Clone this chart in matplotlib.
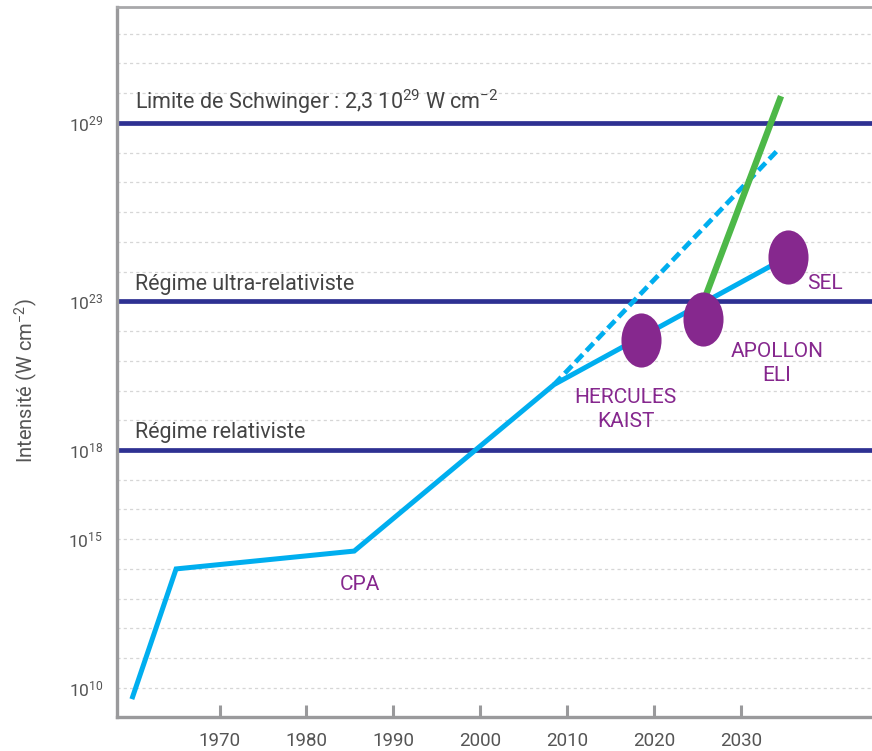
import numpy as np
import matplotlib
matplotlib.use("Agg")
import matplotlib.pyplot as plt
from matplotlib.path import Path

plt.rcParams["font.family"] = ["Roboto", "DejaVu Sans"]
plt.rcParams["mathtext.fontset"] = "custom"
plt.rcParams["mathtext.rm"] = "Roboto"
plt.rcParams["mathtext.it"] = "Roboto:italic"
plt.rcParams["mathtext.bf"] = "Roboto:bold"

# peak laser intensity over time (log10 of W/cm^2)
years_main = [1960, 1965, 1985.5, 2008.5, 2035.4]
log_main = [9.7, 14.0, 14.6, 20.2, 24.5]

years_trend = [2008.5, 2034.3]
log_trend = [20.2, 28.1]

years_green = [2026.1, 2034.5]
log_green = [23.3, 29.8]

facilities = ["HERCULES\nKAIST", "APOLLON\nELI", "SEL"]
fac_years = [2018.5, 2025.7, 2035.4]
fac_log = [21.7, 22.4, 24.5]

regimes = ["Régime relativiste", "Régime ultra-relativiste",
           "Limite de Schwinger : 2,3 10$^{29}$ W cm$^{-2}$"]
regime_log = [18, 23, 29]

ytick_exp = [10, 15, 18, 23, 29]
xtick_years = [1970, 1980, 1990, 2000, 2010, 2020, 2030]

BLUE = "#00AEEF"
NAVY = "#2E3192"
GREEN = "#4DB848"
PURPLE = "#86288E"
AXGREY = "#9a9a9c"
TXT = "#555555"

fig = plt.figure(figsize=(8.72, 7.51), dpi=100)
ax = fig.add_axes([0.1342, 0.0453, 0.8658, 0.9454])
ax.set_yscale("log")
ax.set_xlim(1958.2, 2045.1)
ax.set_ylim(10 ** 9.02, 10 ** 32.9)

# dotted decade grid
for e in range(10, 33):
    ax.axhline(10.0 ** e, color="#d6d6d6", lw=0.9, ls=(0, (2.5, 2.5)), zorder=0)

# regime boundaries
for lab, e in zip(regimes, regime_log):
    ax.axhline(10.0 ** e, color=NAVY, lw=3.4, zorder=2)
    ax.text(1960.3, 10.0 ** (e + 0.22), lab, fontsize=15.5, color="#444444",
            ha="left", va="bottom", zorder=3)

ax.plot(years_main, 10.0 ** np.array(log_main), color=BLUE, lw=3.6,
        solid_joinstyle="miter", zorder=4)
ax.plot(years_trend, 10.0 ** np.array(log_trend), color=BLUE, lw=3.4,
        ls=(0, (2.2, 1.1)), zorder=4)
ax.plot(years_green, 10.0 ** np.array(log_green), color=GREEN, lw=4.6, zorder=4)

# elliptical facility markers
circ = Path.unit_circle()
ell = Path(circ.vertices * np.array([0.74, 1.0]), circ.codes)
ax.scatter(fac_years, 10.0 ** np.array(fac_log), s=1520, marker=ell,
           color=PURPLE, linewidths=0, zorder=5)

offsets = [(-11, -50), (53, -32), (27, -19)]
for name, yr, lg, off in zip(facilities, fac_years, fac_log, offsets):
    ax.annotate(name, (yr, 10.0 ** lg), xytext=off, textcoords="offset points",
                ha="center", va="center", fontsize=15, color=PURPLE,
                linespacing=1.3, zorder=6)

ax.annotate("CPA", (years_main[2], 10.0 ** log_main[2]), xytext=(4, -24),
            textcoords="offset points", ha="center", va="center",
            fontsize=15, color=PURPLE)

ax.spines["right"].set_visible(False)
for side in ["left", "bottom"]:
    ax.spines[side].set_color(AXGREY)
    ax.spines[side].set_linewidth(2.4)
ax.spines["top"].set_color("#a8a8aa")
ax.spines["top"].set_linewidth(2.0)

ax.set_xticks(xtick_years)
ax.set_xticklabels([str(y) for y in xtick_years])
ax.tick_params(axis="x", direction="in", length=9, width=2.2, color=AXGREY,
               labelsize=13.5, labelcolor=TXT, pad=11)
ax.set_yticks([10.0 ** e for e in ytick_exp])
ax.set_yticklabels([f"10$^{{{e}}}$" for e in ytick_exp])
ax.yaxis.set_minor_locator(matplotlib.ticker.NullLocator())
ax.tick_params(axis="y", length=0, labelsize=12.5, labelcolor=TXT, pad=10)

fig.text(0.03, 0.493, "Intensité (W cm$^{-2}$)", rotation=90, fontsize=14.5,
         color=TXT, ha="center", va="center")

fig.savefig("out.png", dpi=100)
